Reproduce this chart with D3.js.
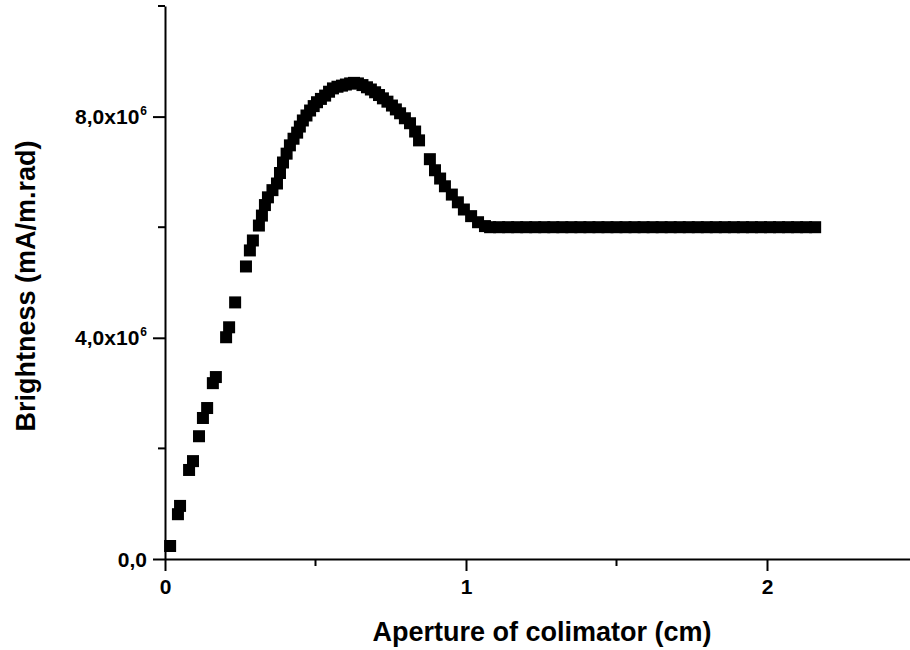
<!DOCTYPE html>
<html>
<head>
<meta charset="utf-8">
<script src="https://cdn.jsdelivr.net/npm/d3@7/dist/d3.min.js"></script>
<style>
  html, body { margin: 0; padding: 0; background: #fff; }
  svg { display: block; }
  text { font-family: "Liberation Sans", Arial, sans-serif; font-weight: bold; fill: #000; }
</style>
</head>
<body>
<script>
// Aperture of colimator (cm)
const aperture = [
  0.017, 0.043, 0.050, 0.080, 0.093, 0.113, 0.126, 0.140, 0.159, 0.169,
  0.203, 0.213, 0.233, 0.269, 0.282, 0.292, 0.312, 0.322, 0.332, 0.342,
  0.357, 0.372, 0.382, 0.392, 0.404, 0.415, 0.427, 0.439, 0.448, 0.458,
  0.470, 0.482, 0.494, 0.505, 0.518, 0.532, 0.545, 0.558, 0.573, 0.588,
  0.601, 0.615, 0.628, 0.641, 0.656, 0.671, 0.684, 0.698, 0.711, 0.724,
  0.739, 0.754, 0.767, 0.781, 0.797, 0.814, 0.831, 0.844, 0.880, 0.897,
  0.914, 0.930, 0.953, 0.973, 0.993, 1.017, 1.040, 1.063,
  1.08, 1.11, 1.14, 1.17, 1.20, 1.23, 1.26, 1.29, 1.32, 1.35,
  1.38, 1.41, 1.44, 1.47, 1.50, 1.53, 1.56, 1.59, 1.62, 1.65,
  1.68, 1.71, 1.74, 1.77, 1.80, 1.83, 1.86, 1.89, 1.92, 1.95,
  1.98, 2.01, 2.04, 2.07, 2.10, 2.13, 2.16
];
// Brightness (mA/m.rad), in units of 1e6
const brightness = [
  0.235, 0.81, 0.96, 1.61, 1.77, 2.22, 2.55, 2.73, 3.18, 3.29,
  4.01, 4.19, 4.64, 5.29, 5.58, 5.76, 6.03, 6.21, 6.40, 6.54,
  6.67, 6.79, 6.98, 7.17, 7.33, 7.48, 7.60, 7.71, 7.82, 7.93,
  8.02, 8.11, 8.19, 8.26, 8.32, 8.38, 8.45, 8.51, 8.54, 8.56,
  8.58, 8.60, 8.61, 8.60, 8.57, 8.53, 8.49, 8.44, 8.39, 8.33,
  8.27, 8.20, 8.13, 8.06, 7.97, 7.88, 7.73, 7.57, 7.23, 7.03,
  6.88, 6.74, 6.59, 6.45, 6.32, 6.20, 6.09, 6.02,
  6.0, 6.0, 6.0, 6.0, 6.0, 6.0, 6.0, 6.0, 6.0, 6.0,
  6.0, 6.0, 6.0, 6.0, 6.0, 6.0, 6.0, 6.0, 6.0, 6.0,
  6.0, 6.0, 6.0, 6.0, 6.0, 6.0, 6.0, 6.0, 6.0, 6.0,
  6.0, 6.0, 6.0, 6.0, 6.0, 6.0, 6.0
];
const xMajorTicks = [0, 1, 2];
const xTickLabels = ["0", "1", "2"];
const xMinorTicks = [0.5, 1.5, 2.5];
const yMajorTicks = [0, 4e6, 8e6];
const yTickLabels = [["0,0", ""], ["4,0x10", "6"], ["8,0x10", "6"]];
const yMinorTicks = [2e6, 6e6, 10e6];
const xTitle = "Aperture of colimator (cm)";
const yTitle = "Brightness (mA/m.rad)";

const W = 910, H = 650;
const x0 = 165, x1 = 466;   // pixels of x=0 and x=1
const yBase = 559, yTop = 6;
const pxPerUnit = x1 - x0;

const svg = d3.select("body").append("svg").attr("width", W).attr("height", H);

const x = d3.scaleLinear().domain([0, (W - x0) / pxPerUnit]).range([x0, W]);
const y = d3.scaleLinear().domain([0, 1e7]).range([yBase, yTop]);

// Axes
const xAxis = d3.axisBottom(x).tickValues(xMajorTicks).tickFormat((d, i) => xTickLabels[i])
  .tickSizeInner(12).tickSizeOuter(0).tickPadding(8);
const gx = svg.append("g").attr("transform", `translate(0,${yBase})`).call(xAxis)
  .attr("font-size", 21).attr("font-family", null);
gx.selectAll(".tick text").style("font-size", "21px");
gx.append("g").selectAll("line").data(xMinorTicks.filter(d => x(d) <= W)).join("line")
  .attr("x1", d => x(d)).attr("x2", d => x(d)).attr("y1", 0).attr("y2", 7);

const yAxis = d3.axisLeft(y).tickValues(yMajorTicks).tickFormat("")
  .tickSizeInner(12).tickSizeOuter(0);
const gy = svg.append("g").attr("transform", `translate(${x0},0)`).call(yAxis);
gy.append("g").selectAll("line").data(yMinorTicks).join("line")
  .attr("x1", 0).attr("x2", -7).attr("y1", d => y(d)).attr("y2", d => y(d));

[gx, gy].forEach(g => {
  g.selectAll("path.domain").attr("stroke", "#000").attr("stroke-width", 2);
  g.selectAll("line").attr("stroke", "#000").attr("stroke-width", 2);
});

// y tick labels with superscripts
const ylab = svg.append("g");
yMajorTicks.forEach((v, i) => {
  const t = ylab.append("text").attr("x", x0 - 18).attr("y", y(v)).attr("dy", "0.36em")
    .attr("text-anchor", "end").style("font-size", "21px");
  t.append("tspan").text(yTickLabels[i][0]);
  if (yTickLabels[i][1]) {
    t.append("tspan").style("font-size", "12px").attr("dy", "-0.75em").attr("dx", 1).text(yTickLabels[i][1]);
  }
});

// Points (filled squares)
const s = 12;
svg.append("g").selectAll("rect").data(aperture.map((a, i) => [a, brightness[i] * 1e6])).join("rect")
  .attr("x", d => x(d[0]) - s / 2).attr("y", d => y(d[1]) - s / 2)
  .attr("width", s).attr("height", s).attr("fill", "#000");

// Titles
svg.append("text").attr("x", 542).attr("y", 641).attr("text-anchor", "middle")
  .style("font-size", "27px").text(xTitle);
svg.append("text").attr("transform", `translate(35,286) rotate(-90)`).attr("text-anchor", "middle")
  .style("font-size", "27px").text(yTitle);
</script>
</body>
</html>
